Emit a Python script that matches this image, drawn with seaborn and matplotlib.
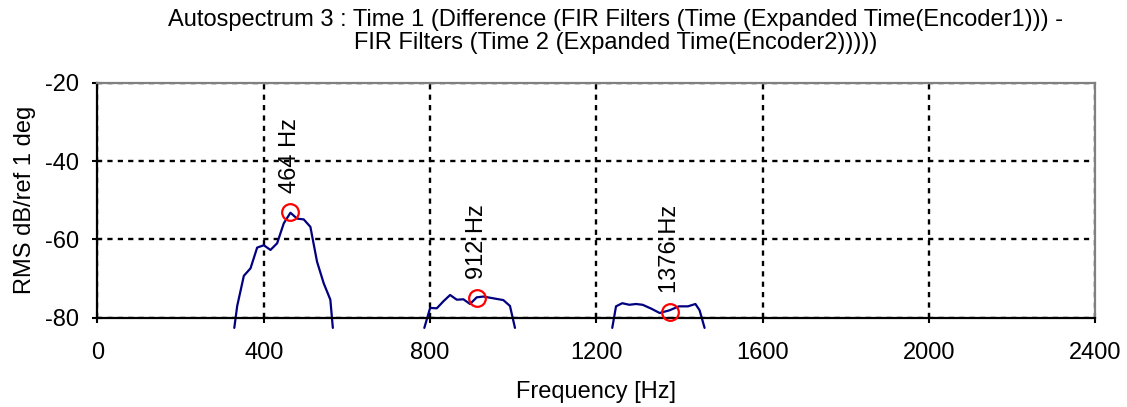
import pandas as pd
import seaborn as sns
import matplotlib.pyplot as plt

# Spectrum segments (Hz, dB)
freq_1 = [329, 336, 352, 368, 384, 400, 416, 432, 448, 464, 480, 496, 512, 528, 544, 560, 566]
level_1 = [-82.6, -77.0, -69.3, -67.4, -62.1, -61.5, -62.7, -61.0, -55.9, -53.2, -54.7, -54.9, -56.8, -65.7, -71.2, -75.4, -82.6]

freq_2 = [786, 800, 816, 832, 848, 864, 880, 896, 912, 928, 944, 960, 976, 992, 1004]
level_2 = [-82.6, -77.5, -77.6, -75.8, -74.2, -75.4, -75.3, -76.5, -74.8, -74.6, -74.9, -75.2, -75.5, -77.0, -82.6]

freq_3 = [1238, 1247, 1262, 1279, 1295, 1311, 1332, 1352, 1376, 1398, 1420, 1438, 1448, 1460]
level_3 = [-82.6, -77.1, -76.3, -76.7, -76.5, -76.7, -77.7, -78.8, -78.1, -77.1, -77.1, -76.5, -78.1, -82.6]

# Peak markers
peak_freq = [464, 912, 1376]
peak_level = [-53.1, -75.0, -78.6]
peak_labels = ['464 Hz', '912 Hz', '1376 Hz']

x_ticks = [0, 400, 800, 1200, 1600, 2000, 2400]
y_ticks = [-80, -60, -40, -20]

title_1 = 'Autospectrum 3 : Time 1 (Difference (FIR Filters (Time (Expanded Time(Encoder1))) -'
title_2 = 'FIR Filters (Time 2 (Expanded Time(Encoder2)))))'

df = pd.concat([
    pd.DataFrame({'freq': freq_1, 'level': level_1, 'segment': 1}),
    pd.DataFrame({'freq': freq_2, 'level': level_2, 'segment': 2}),
    pd.DataFrame({'freq': freq_3, 'level': level_3, 'segment': 3}),
])
peaks = pd.DataFrame({'freq': peak_freq, 'level': peak_level, 'label': peak_labels})

sns.set_style('white')
plt.rcParams['font.family'] = ['Liberation Sans', 'DejaVu Sans']
plt.rcParams['axes.unicode_minus'] = False
plt.rcParams['text.color'] = 'black'
plt.rcParams['axes.labelcolor'] = 'black'
plt.rcParams['xtick.color'] = 'black'
plt.rcParams['ytick.color'] = 'black'

fig = plt.figure(figsize=(11.27, 4.07), dpi=100)
ax = fig.add_axes([0.0865, 0.2194, 0.8855, 0.5774])

sns.lineplot(data=df, x='freq', y='level', units='segment', estimator=None,
             sort=False, color='#000080', linewidth=1.6, ax=ax)
for line in ax.lines:
    line.set_clip_on(False)

ax.plot(peaks['freq'], peaks['level'], 'o', markersize=12, markerfacecolor='none',
        markeredgecolor='#ff0000', markeredgewidth=1.6, clip_on=False, zorder=5)

for f, lv, lab in zip(peaks['freq'], peaks['level'], peaks['label']):
    ax.annotate(lab, (f, lv), xytext=(0, 14), textcoords='offset points',
                rotation=90, ha='center', va='bottom', fontsize=17)

ax.set_xlim(0, 2400)
ax.set_ylim(-80, -20)
ax.set_xticks(x_ticks)
ax.set_yticks(y_ticks)
ax.grid(True, color='black', linestyle=(0, (2.2, 2.2)), linewidth=1.7)
ax.set_axisbelow(True)

for side in ['left', 'bottom']:
    ax.spines[side].set_color('black')
    ax.spines[side].set_linewidth(1.6)
for side in ['top', 'right']:
    ax.spines[side].set_color('#808080')
    ax.spines[side].set_linewidth(1.6)

ax.tick_params(bottom=True, left=True, top=False, right=False, direction='inout',
               length=7, width=1.5, color='black', labelsize=17)
ax.tick_params(axis='x', pad=14)
ax.tick_params(axis='y', pad=10)

ax.set_xlabel('Frequency [Hz]', fontsize=17, labelpad=12)
ax.set_ylabel('RMS dB/ref 1 deg', fontsize=17, labelpad=6)

fig.text(0.546, 0.978, title_1 + '\n' + title_2, ha='center', va='top',
         fontsize=17, linespacing=1.08)

fig.savefig('out.png', dpi=100)
